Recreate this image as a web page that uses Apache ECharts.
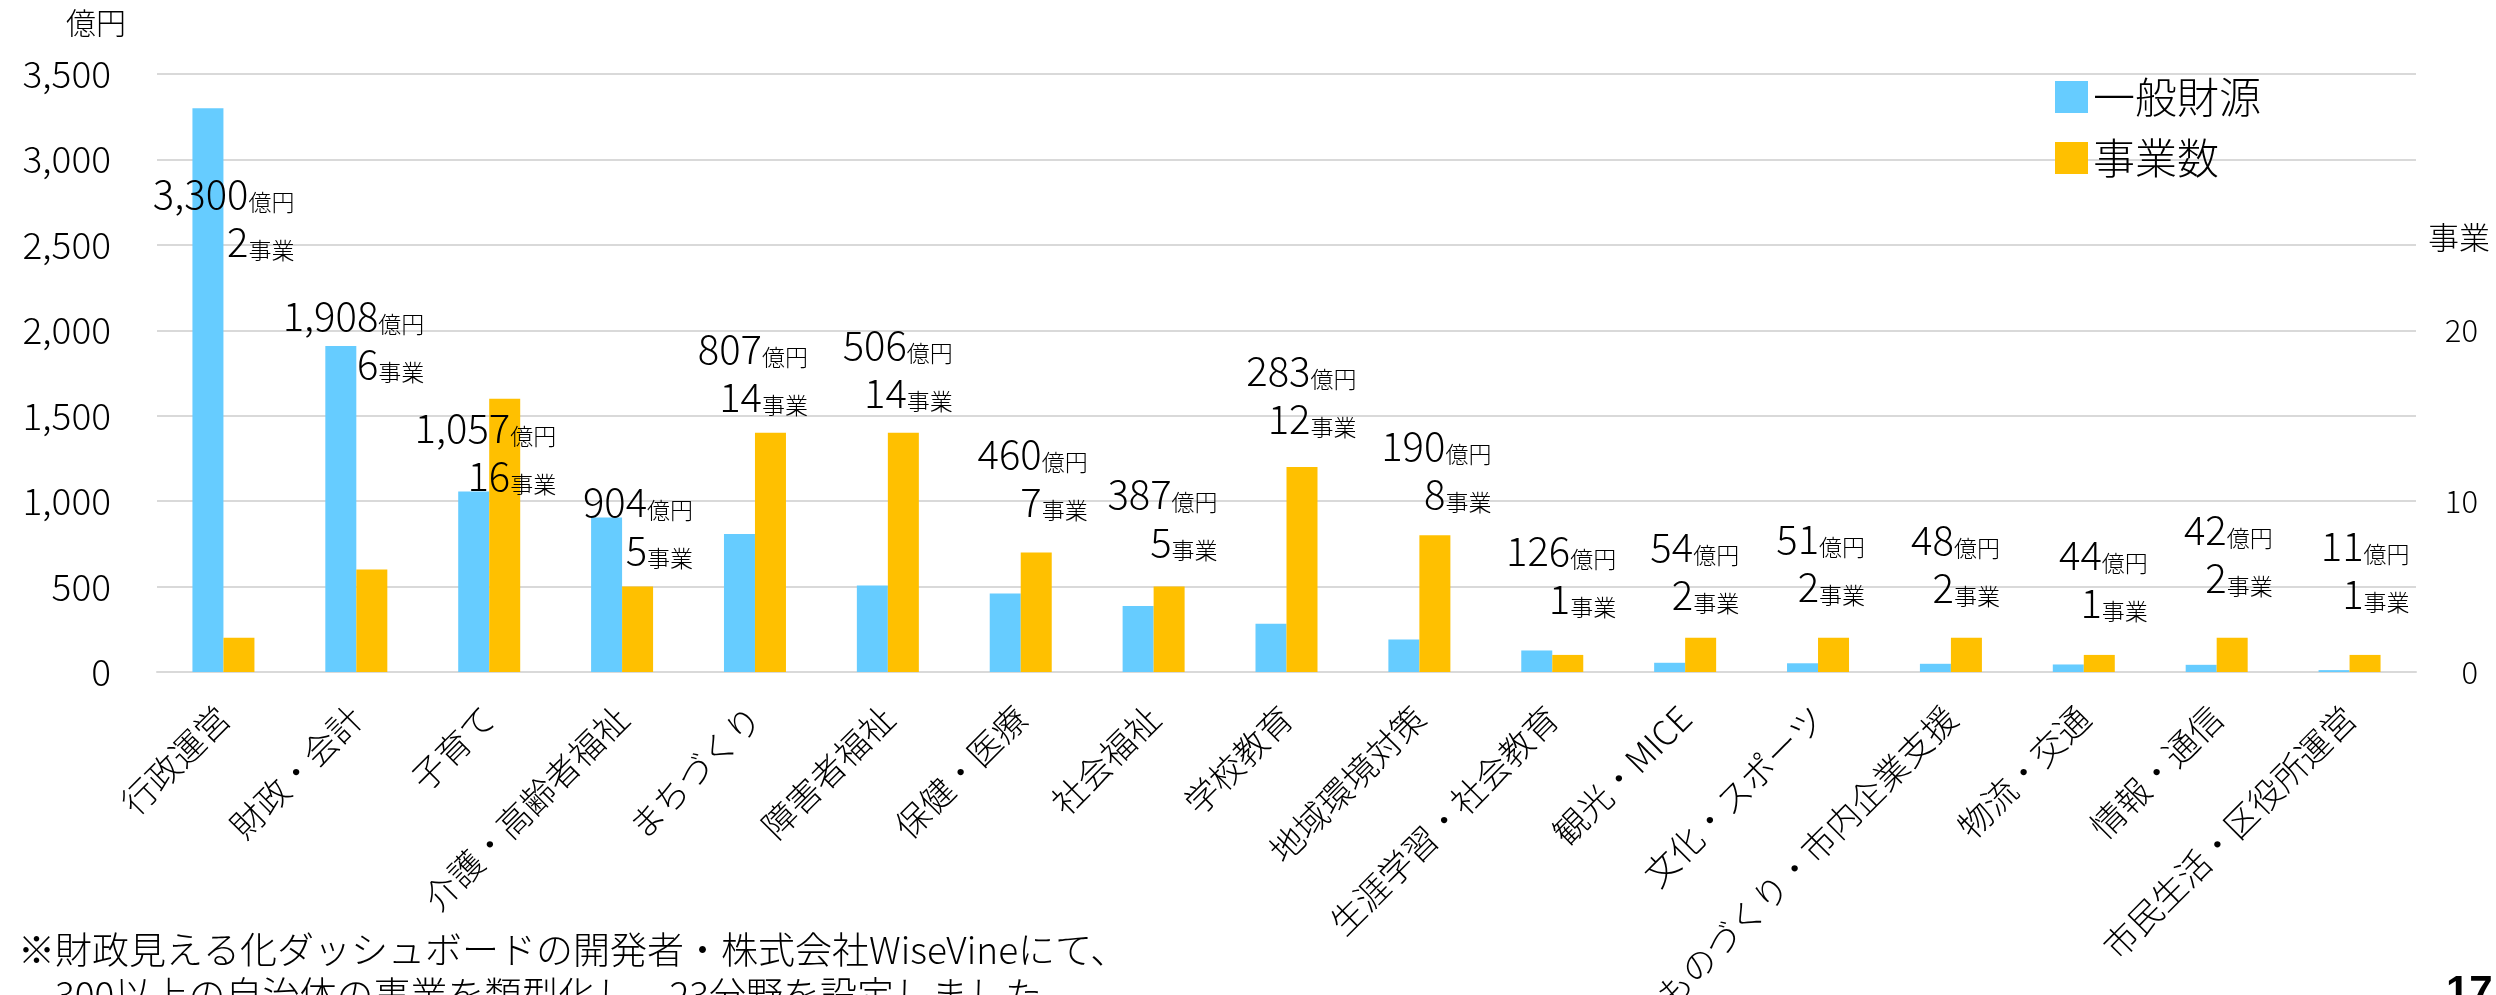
<!DOCTYPE html>
<html>
<head>
<meta charset="utf-8">
<script src="https://cdn.jsdelivr.net/npm/echarts@6/dist/echarts.min.js"></script>
<style>
html,body{margin:0;padding:0;background:#fff;overflow:hidden;}
#chart{width:2496px;height:995px;}
</style>
</head>
<body>
<div id="chart"></div>
<script>
// ---- data ----
const categories = ['行政運営','財政・会計','子育て','介護・高齢者福祉','まちづくり','障害者福祉','保健・医療','社会福祉','学校教育','地域環境対策','生涯学習・社会教育','観光・MICE','文化・スポーツ','ものづくり・市内企業支援','物流・交通','情報・通信','市民生活・区役所運営'];
const generalFunds = [3300, 1908, 1057, 904, 807, 506, 460, 387, 283, 190, 126, 54, 51, 48, 44, 42, 11]; // 億円
const projectCounts = [2, 6, 16, 5, 14, 14, 7, 5, 12, 8, 1, 2, 2, 2, 1, 2, 1]; // 事業
const seriesNames = ['一般財源', '事業数'];
const leftAxisTicks = {min: 0, max: 3500, interval: 500};
const rightAxisTicks = {min: 0, max: 35, interval: 10, shownMax: 20};

// label layout nudges (pixels, relative to category centre / taller bar top)
const labelDx = [71, 68, 67, 71, 53, 65, 67, 64, 70, 72, 64, 54, 47, 49, 64, 56, 60];
const labelDy = [82, -34, 25, -20, -88, -92, -103, -97, -100, -94, -104, -95, -103, -102, -104, -112, -113];

const FONT = '"Noto Sans CJK JP", "Noto Sans", sans-serif';
const W = 300;
const BLUE = '#66CCFF';
const ORANGE = '#FFC000';
const GRID = '#D9D9D9';
const ratio = leftAxisTicks.max / rightAxisTicks.max;

const chart = echarts.init(document.getElementById('chart'));

function fmt(v){ return Number(v).toLocaleString('en-US'); }

const labelData = categories.map((c, i) => [i, generalFunds[i], projectCounts[i]]);

function renderLabel(params, api) {
  const i = api.value(0);
  const g = api.value(1);
  const n = api.value(2);
  const pb = api.coord([i, g]);
  const po = api.coord([i, n * ratio]);
  const top = Math.min(pb[1], po[1]);
  const cx = pb[0];
  return {
    type: 'text',
    x: cx + labelDx[i],
    y: top + labelDy[i] - 24,
    z2: 100,
    style: {
      text: '{n|' + fmt(g) + '}{u|億円}\n{n|' + n + '}{u|事業}',
      align: 'right',
      verticalAlign: 'top',
      fill: '#000',
      rich: {
        n: {fontSize: 40, lineHeight: 48, fontFamily: FONT, fontWeight: W, fill: '#000', verticalAlign: 'bottom'},
        u: {fontSize: 23, lineHeight: 36, fontFamily: FONT, fontWeight: W, fill: '#000', verticalAlign: 'bottom'}
      }
    }
  };
}

const option = {
  backgroundColor: '#fff',
  animation: false,
  textStyle: {fontFamily: FONT, fontWeight: W},
  grid: {left: 157, right: 80, top: 74, bottom: 323, containLabel: false, outerBoundsMode: 'none'},
  legend: {
    orient: 'vertical',
    left: 2050,
    top: 71,
    itemWidth: 33,
    itemHeight: 32,
    itemGap: 19,
    icon: 'rect',
    data: seriesNames,
    textStyle: {fontSize: 42, fontFamily: FONT, fontWeight: W, color: '#000', lineHeight: 32}
  },
  xAxis: {
    type: 'category',
    data: categories,
    axisLine: {lineStyle: {color: GRID, width: 2}},
    axisTick: {show: false},
    axisLabel: {rotate: 45, interval: 0, fontSize: 34, margin: 40, color: '#000', fontFamily: FONT, fontWeight: W}
  },
  yAxis: [
    {
      type: 'value',
      min: leftAxisTicks.min, max: leftAxisTicks.max, interval: leftAxisTicks.interval,
      axisLine: {show: false}, axisTick: {show: false},
      splitLine: {lineStyle: {color: GRID, width: 2}},
      axisLabel: {fontSize: 37, margin: 46, color: '#000', fontFamily: FONT, fontWeight: W, formatter: v => fmt(v)}
    },
    {
      type: 'value',
      min: rightAxisTicks.min, max: rightAxisTicks.max, interval: rightAxisTicks.interval,
      axisLine: {show: false}, axisTick: {show: false},
      splitLine: {show: false},
      axisLabel: {fontSize: 31, margin: 62, align: 'right', color: '#000', fontFamily: FONT, fontWeight: W,
        formatter: v => (v <= rightAxisTicks.shownMax ? String(v) : '')}
    }
  ],
  series: [
    {name: seriesNames[0], type: 'bar', yAxisIndex: 0, data: generalFunds, barWidth: 31, barGap: '0%', itemStyle: {color: BLUE}},
    {name: seriesNames[1], type: 'bar', yAxisIndex: 1, data: projectCounts, barWidth: 31, barGap: '0%', itemStyle: {color: ORANGE}},
    {name: 'labels', type: 'custom', yAxisIndex: 0, data: labelData, renderItem: renderLabel, z: 10, silent: true}
  ],
  graphic: [
    {type: 'text', left: 66, top: 8, style: {text: '億円', fontSize: 30, fontFamily: FONT, fontWeight: W, fill: '#000'}},
    {type: 'text', left: 2428, top: 222, style: {text: '事業', fontSize: 31, fontFamily: FONT, fontWeight: W, fill: '#000'}},
    {type: 'text', left: 18, top: 927, style: {text: '※財政見える化ダッシュボードの開発者・株式会社WiseVineにて、\n　300以上の自治体の事業を類型化し、23分野を設定しました', fontSize: 37, lineHeight: 45, fontFamily: FONT, fontWeight: W, fill: '#000'}},
    {type: 'text', left: 2446, top: 972, style: {text: '17', fontSize: 42, fontWeight: 'bold', fontFamily: '"Liberation Sans", Arial, sans-serif', fill: '#000'}}
  ]
};
chart.setOption(option);
</script>
</body>
</html>
